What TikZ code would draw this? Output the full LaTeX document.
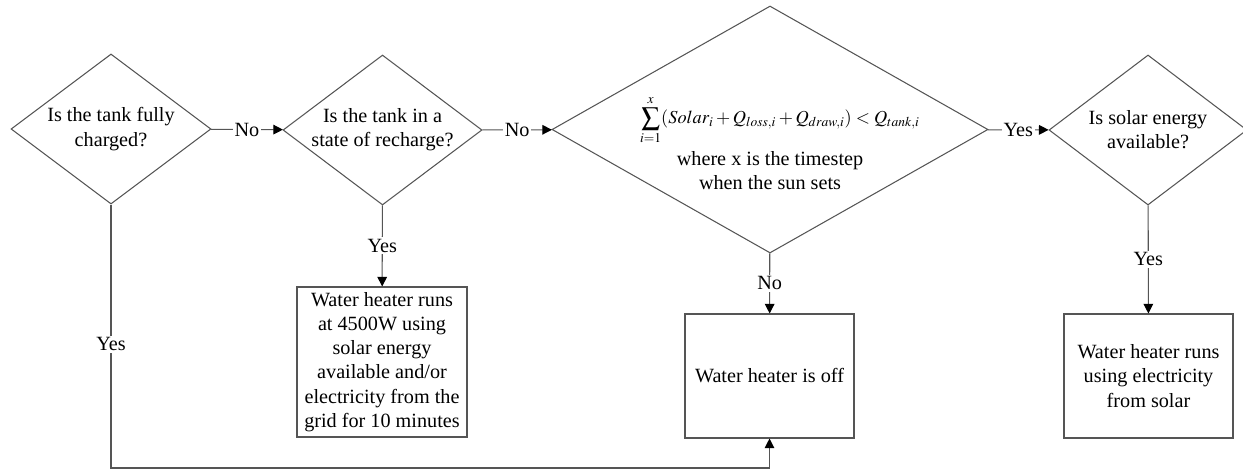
\documentclass[tikz,border=0pt]{standalone}
\usepackage{mathptmx}
\usepackage{fontspec}
\setmainfont{Liberation Serif}
\usepackage{tikz}
\usetikzlibrary{shapes.geometric, positioning, arrows.meta}
\definecolor{LineGray}{RGB}{85,85,85}

\begin{document}
\begin{tikzpicture}[
          font=\fontsize{11.5}{13.8}\selectfont,
          decision/.style={diamond, draw=LineGray, line width=0.6pt, inner sep=0pt,
                           shape aspect=1.33, align=center},
          action/.style={rectangle, draw=LineGray, line width=0.6pt, inner sep=2pt,
                         align=center},
          lbl/.style={fill=white, inner sep=1pt},
          arr/.style={-{Triangle[length=5.5pt, width=5.5pt, color=black]},
                      draw=LineGray, line width=0.6pt}
        ]
        \useasboundingbox (0,0) rectangle (24.86,9.4);

        % decisions along the top row
        \node[decision, minimum width=4.0cm, minimum height=3.0cm]
              (full) at (2.22, 6.82) {Is the tank fully\\charged?};
        \node[decision, minimum width=3.98cm, minimum height=3.0cm]
              (recharge) at (7.65, 6.8) {Is the tank in a\\state of recharge?};
        \node[decision, minimum width=8.72cm, minimum height=4.94cm]
              (sunset) at (15.4, 6.81) {};
        \node[align=center] (sunsettext) at (15.4, 6.54)
              {\hspace*{0.4cm}{\fontsize{10.4}{12}\selectfont
                $\displaystyle\sum_{i=1}^{x}(Solar_i+Q_{loss,i}+Q_{draw,i})<Q_{tank,i}$}\\[3pt]
               where x is the timestep\\when the sun sets};
        \node[decision, minimum width=3.96cm, minimum height=3.0cm]
              (solar) at (22.96, 6.8) {Is solar energy\\available?};

        % outcomes
        \node[action, minimum width=3.4cm, minimum height=3.0cm]
              (runs) at (7.64, 2.16)
              {Water heater runs\\at 4500W using\\solar energy\\available and/or\\electricity from the\\grid for 10 minutes};
        \node[action, minimum width=3.38cm, minimum height=2.48cm]
              (off) at (15.39, 1.88) {Water heater is off};
        \node[action, minimum width=3.38cm, minimum height=2.48cm]
              (fromsolar) at (22.97, 1.88)
              {Water heater runs\\using electricity\\from solar};

        \coordinate (corner) at (2.22, 0.04);

        \draw[arr] (full)     -- node[lbl] {No}  (recharge);
        \draw[arr] (recharge) -- node[lbl] {No}  (sunset);
        \draw[arr] (sunset)   -- node[lbl] {Yes} (solar);
        \draw[arr] (recharge) -- node[lbl] {Yes} (runs);
        \draw[arr] (sunset)   -- node[lbl] {No}  (off);
        \draw[arr] (solar)    -- node[lbl] {Yes} (fromsolar);
        \draw[arr] (full.south) -- node[lbl, pos=0.53] {Yes} (corner) -| (off.south);
      \end{tikzpicture}
\end{document}
